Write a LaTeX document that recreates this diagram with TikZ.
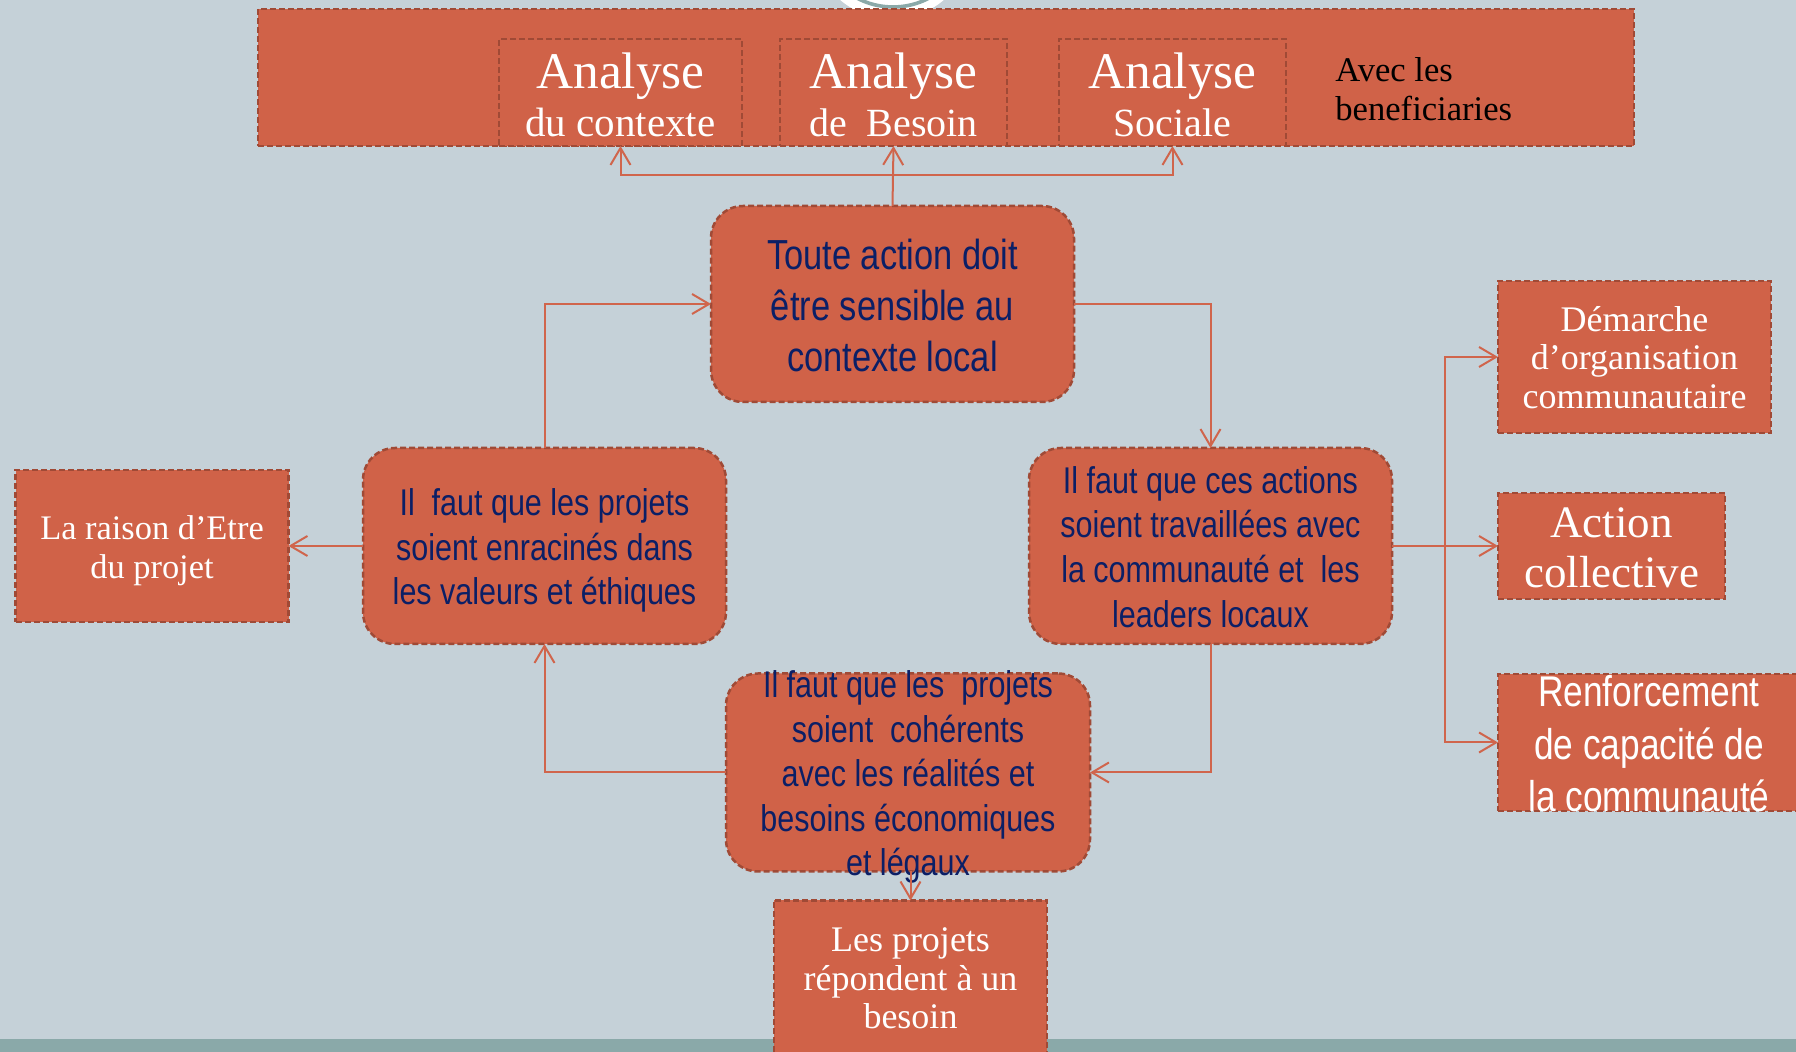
\documentclass[tikz,border=0pt]{standalone}
\usepackage{fontspec}
\setmainfont{Liberation Serif}
\newfontfamily\narrowsans[FakeStretch=0.82]{Liberation Sans}
\usetikzlibrary{arrows.meta}
\definecolor{bgc}{HTML}{C5D1D8}
\definecolor{boxc}{HTML}{D06248}
\definecolor{edgec}{HTML}{A04A36}
\definecolor{linec}{HTML}{D0654C}
\definecolor{tealc}{HTML}{8AA9A9}
\definecolor{navyc}{HTML}{0B1F66}
\newcommand\ctext[2]{\smash{\raisebox{#1}{\begin{tabular}[c]{@{}c@{}}#2\end{tabular}}}}
\newcommand\sz[2]{\fontsize{#1}{#2}\selectfont}
\tikzset{
  x=0.5pt,y=-0.5pt,
  basebox/.style={draw=edgec,fill=boxc,line width=1.25pt,dash pattern=on 3pt off 1.5pt,inner sep=0pt,outer sep=0pt},
  sqbox/.style={basebox,text=white},
  rndbox/.style={basebox,rounded corners=16pt,text=navyc},
  conn/.style={draw=linec,line width=1pt,-{Straight Barb[length=8.5pt,width=10pt,line width=1pt]}},
}
\begin{document}
\begin{tikzpicture}
\useasboundingbox (0,0) rectangle (1796,1052);
\clip (0,0) rectangle (1796,1052);
\fill[bgc] (0,0) rectangle (1796,1052);
\fill[tealc] (0,1039) rectangle (1796,1052);
\fill[white] (892,-61) circle[radius=40pt];
\draw[tealc,line width=1.8pt] (893,-70) circle[radius=38.5pt];

\node[sqbox,minimum width=688pt,minimum height=68.5pt] (band) at (946,77.5) {};
\node[sqbox,minimum width=121.5pt,minimum height=53.5pt] (ctx) at (620.5,92.5) {\ctext{-5.4pt}{\sz{25.7}{29}Analyse\\[6.2pt]\sz{20.5}{24}du contexte}};
\node[sqbox,minimum width=113.5pt,minimum height=53.5pt] (bes) at (893.5,92.5) {\ctext{-5.4pt}{\sz{25.7}{29}Analyse\\[6.2pt]\sz{20}{24}de\ \ Besoin}};
\node[sqbox,minimum width=113.5pt,minimum height=53.5pt] (soc) at (1172.5,92.5) {\ctext{-5.4pt}{\sz{25.7}{29}Analyse\\[6.2pt]\sz{20}{24}Sociale}};
\node[anchor=west,align=left,text=black,font=\fontsize{17.3}{19.2}\selectfont,inner sep=0pt] (ben) at (1335,89) {Avec les\\beneficiaries};

\node[rndbox,minimum width=181.5pt,minimum height=98pt] (central) at (892.5,304) {\narrowsans\sz{21}{25.5}\ctext{-8.5pt}{Toute action doit\\être sensible au\\contexte local}};
\node[rndbox,minimum width=181.5pt,minimum height=98pt] (left) at (544.5,546) {\narrowsans\sz{18.6}{22.3}\ctext{-7pt}{Il\ \ faut que les projets\\soient enracinés dans\\les valeurs et éthiques}};
\node[rndbox,minimum width=181.5pt,minimum height=98pt] (right) at (1210.5,546) {\narrowsans\sz{18.6}{22.3}\ctext{-7pt}{Il faut que ces actions\\soient travaillées avec\\la communauté et\ \ les\\leaders locaux}};
\node[rndbox,minimum width=182pt,minimum height=99pt] (bottom) at (908,772.5) {\narrowsans\sz{18.6}{22.3}\ctext{-7pt}{Il faut que les\ \ projets\\soient\ \ cohérents\\avec les réalités et\\besoins économiques\\et légaux}};

\node[sqbox,minimum width=136.5pt,minimum height=76pt] (raison) at (152,546) {\sz{17.2}{19.2}\ctext{-6.9pt}{La raison d’Etre\\du projet}};
\node[sqbox,minimum width=136.5pt,minimum height=76pt] (dem) at (1634.5,357) {\sz{18}{19.2}\ctext{-6.9pt}{Démarche\\d’organisation\\communautaire}};
\node[sqbox,minimum width=113.5pt,minimum height=53pt] (action) at (1611.5,546) {\sz{22.5}{25}\ctext{-8.3pt}{Action\\collective}};
\node[sqbox,minimum width=151pt,minimum height=68.5pt] (renf) at (1649,742.5) {\narrowsans\sz{21.5}{26.2}\ctext{-8.3pt}{Renforcement\\de capacité de\\la communauté}};
\node[sqbox,minimum width=136.5pt,minimum height=77pt] (proj) at (910.5,977.5) {\sz{18}{19.2}\ctext{-6.9pt}{Les projets\\répondent à un\\besoin}};

\coordinate (topbus) at (892.5,175);
\coordinate (rbus) at (1445,546);
\draw[conn] (central.north) -- (bes.south);
\draw[conn] (topbus) -| (ctx.south);
\draw[conn] (topbus) -| (soc.south);
\draw[conn] (central.east) -| (right.north);
\draw[conn] (right.south) |- (bottom.east);
\draw[conn] (bottom.west) -| (left.south);
\draw[conn] (left.north) |- (central.west);
\draw[conn] (left.west) -- (raison.east);
\draw[conn] (right.east) -- (action.west);
\draw[conn] (rbus) |- (dem.west);
\draw[conn] (rbus) |- (renf.west);
\draw[conn] (proj.north |- bottom.south) -- (proj.north);
\end{tikzpicture}
\end{document}
